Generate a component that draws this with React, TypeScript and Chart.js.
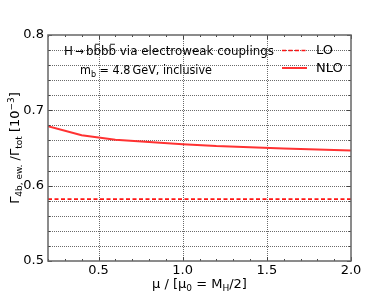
import React, { useEffect, useRef } from "react";
import { Chart, registerables } from "chart.js";

Chart.register(...registerables);

const muValues = [0.2, 0.4, 0.6, 0.8, 1.0, 1.2, 1.4, 1.6, 1.8, 2.0];
const nloValues = [0.679, 0.667, 0.661, 0.658, 0.655, 0.6525, 0.651, 0.6495, 0.648, 0.6467];
const loValues = [0.5822, 0.5822, 0.5822, 0.5822, 0.5822, 0.5822, 0.5822, 0.5822, 0.5822, 0.5822];
const xTickLabels = ["0.5", "1.0", "1.5", "2.0"];
const yTickLabels = ["0.5", "0.6", "0.7", "0.8"];

const FONT = "DejaVu Sans";

export default function App() {
  const ref = useRef<HTMLCanvasElement>(null);
  useEffect(() => {
    document.body.style.margin = "0";
    const canvas = ref.current!;
    const deco = {
      id: "deco",
      beforeDatasetsDraw(chart: any) {
        const { ctx, chartArea: a, scales } = chart;
        const x = scales.x, y = scales.y;
        ctx.save();
        ctx.strokeStyle = "#444";
        ctx.lineWidth = 0.8;
        ctx.setLineDash([1, 1]);
        for (let v = 0.52; v < 0.799; v += 0.02) {
          const py = Math.round(y.getPixelForValue(v)) + 0.5;
          ctx.beginPath(); ctx.moveTo(a.left, py); ctx.lineTo(a.right, py); ctx.stroke();
        }
        for (const v of [0.5, 1.0, 1.5]) {
          const px = Math.round(x.getPixelForValue(v)) + 0.5;
          ctx.beginPath(); ctx.moveTo(px, a.top); ctx.lineTo(px, a.bottom); ctx.stroke();
        }
        ctx.restore();
      },
      afterDraw(chart: any) {
        const { ctx, chartArea: a, scales } = chart;
        const x = scales.x, y = scales.y;
        ctx.save();
        ctx.setLineDash([]);
        // ticks
        ctx.strokeStyle = "#444";
        ctx.lineWidth = 1;
        for (let i = 2; i <= 20; i++) {
          const v = i / 10;
          const px = Math.round(x.getPixelForValue(v)) + 0.5;
          const len = i % 5 === 0 ? 4 : 2;
          ctx.beginPath(); ctx.moveTo(px, a.bottom); ctx.lineTo(px, a.bottom - len); ctx.stroke();
          ctx.beginPath(); ctx.moveTo(px, a.top); ctx.lineTo(px, a.top + len); ctx.stroke();
        }
        for (let i = 25; i <= 40; i++) {
          const v = i / 50;
          const py = Math.round(y.getPixelForValue(v)) + 0.5;
          const len = i % 5 === 0 ? 4 : 2;
          ctx.beginPath(); ctx.moveTo(a.left, py); ctx.lineTo(a.left + len, py); ctx.stroke();
          ctx.beginPath(); ctx.moveTo(a.right, py); ctx.lineTo(a.right - len, py); ctx.stroke();
        }
        // frame
        ctx.strokeStyle = "#666";
        ctx.lineWidth = 1.5;
        ctx.strokeRect(a.left, a.top, a.right - a.left, a.bottom - a.top);
        // tick labels
        ctx.fillStyle = "#000";
        ctx.font = `13px ${FONT}`;
        ctx.textAlign = "center";
        ctx.textBaseline = "top";
        xTickLabels.forEach((t) => {
          ctx.fillText(t, x.getPixelForValue(parseFloat(t)), a.bottom + 3);
        });
        ctx.textAlign = "right";
        ctx.textBaseline = "middle";
        yTickLabels.forEach((t) => {
          ctx.fillText(t, a.left - 4, y.getPixelForValue(parseFloat(t)));
        });
        // run: [text, size, dy, overbar?]
        type Run = [string, number, number, boolean?];
        const drawRuns = (runs: Run[], x0: number, y0: number) => {
          let cx = x0;
          for (const [s, size, dy, bar] of runs) {
            ctx.font = `${size}px ${FONT}`;
            ctx.fillText(s, cx, y0 + dy);
            const w = ctx.measureText(s).width;
            if (bar) {
              ctx.save();
              ctx.strokeStyle = "#000";
              ctx.lineWidth = 0.9;
              ctx.beginPath();
              ctx.moveTo(cx + w * 0.2, y0 + dy - size * 0.86);
              ctx.lineTo(cx + w * 0.85, y0 + dy - size * 0.86);
              ctx.stroke();
              ctx.restore();
            }
            cx += w;
          }
          return cx - x0;
        };
        const measureRuns = (runs: Run[]) => {
          let w = 0;
          for (const [s, size] of runs) { ctx.font = `${size}px ${FONT}`; w += ctx.measureText(s).width; }
          return w;
        };
        const drawFit = (runs: Run[], x0: number, y0: number, width: number) => {
          const sx = width / measureRuns(runs);
          ctx.save();
          ctx.translate(x0, y0);
          ctx.scale(sx, 1);
          drawRuns(runs, 0, 0);
          ctx.restore();
        };
        ctx.textAlign = "left";
        ctx.textBaseline = "alphabetic";
        const xl: Run[] = [["μ / [μ", 13, 0], ["0", 9, 3], [" = M", 13, 0], ["H", 9, 3], ["/2]", 13, 0]];
        const wx = measureRuns(xl);
        drawRuns(xl, (a.left + a.right) / 2 - wx / 2, 288);
        // y label
        const yl: Run[] = [["Γ", 13, 0], ["4b, ew.", 9, 3], [" /Γ", 13, 0], ["tot", 9, 3], [" [10", 13, 0], ["−3", 9, -5], ["]", 13, 0]];
        const wy = measureRuns(yl);
        ctx.save();
        ctx.translate(19, (a.top + a.bottom) / 2);
        ctx.rotate(-Math.PI / 2);
        drawRuns(yl, -wy / 2, 0);
        ctx.restore();
        // annotations
        drawFit(
          [["H", 12.5, 0], ["\u2009→\u2009", 11, 0], ["b", 12.5, 0], ["b", 12.5, 0, true], ["b", 12.5, 0], ["b", 12.5, 0, true], [" via electroweak couplings", 12.5, 0]],
          64, 55, 210
        );
        drawFit([["m", 12.5, 0], ["b", 9, 2.5], [" = 4.8\u2009GeV, inclusive", 12.5, 0]], 80, 74, 132);
        // legend
        ctx.strokeStyle = "rgb(255,20,20)";
        ctx.lineWidth = 1.6;
        ctx.setLineDash([4, 2.5]);
        ctx.beginPath(); ctx.moveTo(282, 50.5); ctx.lineTo(307, 50.5); ctx.stroke();
        ctx.setLineDash([]);
        ctx.strokeStyle = "rgb(255,50,50)";
        ctx.lineWidth = 2;
        ctx.beginPath(); ctx.moveTo(282, 68); ctx.lineTo(307, 68); ctx.stroke();
        ctx.fillStyle = "#000";
        ctx.font = `13px ${FONT}`;
        ctx.textBaseline = "middle";
        ctx.fillText("LO", 316, 51);
        ctx.fillText("NLO", 316, 69);
        ctx.restore();
      },
    };
    const chart = new Chart(canvas, {
      type: "line",
      data: {
        labels: muValues,
        datasets: [
          {
            label: "LO",
            data: muValues.map((m, i) => ({ x: m, y: loValues[i] })),
            borderColor: "rgb(255,20,20)",
            borderWidth: 1.6,
            borderDash: [4, 2.5],
            pointRadius: 0,
            tension: 0,
          },
          {
            label: "NLO",
            data: muValues.map((m, i) => ({ x: m, y: nloValues[i] })),
            borderColor: "rgb(255,50,50)",
            borderWidth: 2,
            pointRadius: 0,
            tension: 0,
          },
        ],
      },
      options: {
        animation: false,
        responsive: false,
        devicePixelRatio: 1,
        layout: { padding: { left: 48, right: 39, top: 35, bottom: 32 } },
        plugins: { legend: { display: false }, tooltip: { enabled: false } },
        scales: {
          x: { type: "linear", min: 0.2, max: 2.0, display: false },
          y: { type: "linear", min: 0.5, max: 0.8, display: false },
        },
      },
      plugins: [deco],
    });
    return () => chart.destroy();
  }, []);
  return (
    <div style={{ position: "fixed", left: 0, top: 0, width: 390, height: 293, background: "#fff" }}>
      <canvas ref={ref} width={390} height={293} style={{ width: 390, height: 293 }} />
    </div>
  );
}
